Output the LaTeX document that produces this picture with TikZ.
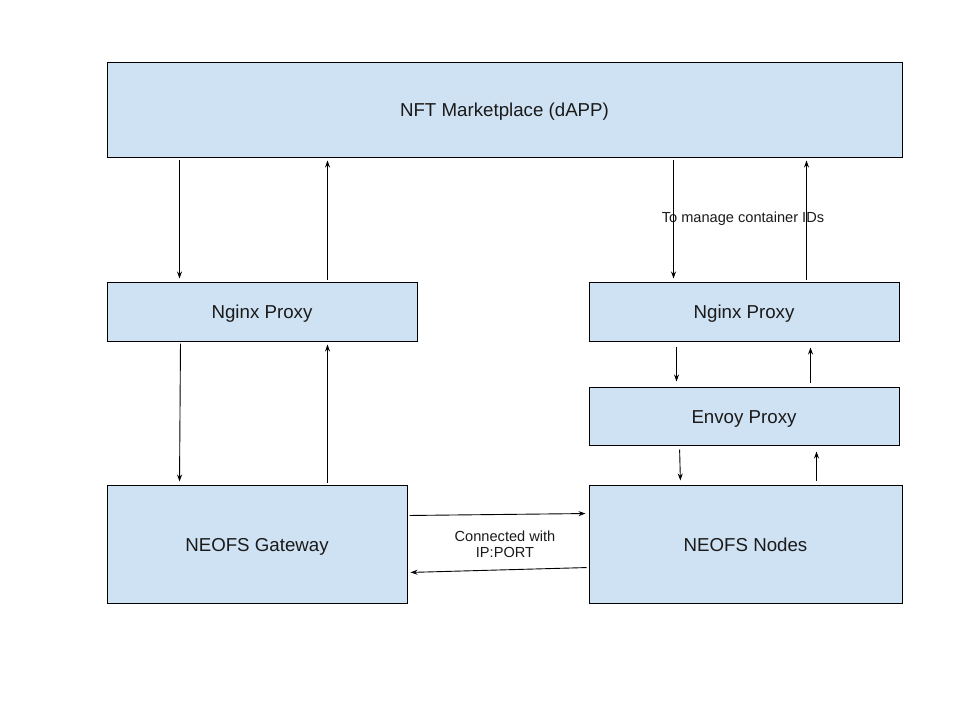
\documentclass[tikz,border=0pt]{standalone}
\usepackage{fontspec}
\setmainfont{Liberation Sans}
\usetikzlibrary{arrows.meta}
\definecolor{boxblue}{HTML}{CFE2F3}
\definecolor{boxtext}{HTML}{1A1A1A}
\begin{document}
\begin{tikzpicture}[x=1pt,y=-1pt]
        \tikzstyle{block}=[rectangle,draw=black,line width=1pt,fill=boxblue,text=boxtext,inner sep=0pt,text height=16pt,text depth=2pt,font=\fontsize{18.7}{22}\selectfont]
        \tikzstyle{edge}=[draw, line width=0.9pt, -{Stealth[length=7pt,width=5pt]}, shorten <=2pt, shorten >=3pt]
        \tikzstyle{note}=[text=boxtext,align=center,font=\fontsize{14.6}{16}\selectfont]
        \useasboundingbox (0,0) rectangle (960,720);
        \begin{scope}
                \node [block,minimum width=795pt,minimum height=95pt] (market) at (504.5,109.5) {NFT Marketplace (dAPP)};
                \node [block,minimum width=310pt,minimum height=59pt] (nginxl) at (262,311.5) {Nginx Proxy};
                \node [block,minimum width=310pt,minimum height=59pt] (nginxr) at (744,311.5) {Nginx Proxy};
                \node [block,minimum width=310pt,minimum height=58pt] (envoy) at (744,416) {Envoy Proxy};
                \node [block,minimum width=300pt,minimum height=118pt] (gateway) at (257,544) {NEOFS Gateway};
                \node [block,minimum width=313pt,minimum height=118pt] (nodes) at (745.5,544) {NEOFS Nodes};
                \node [note] (ids) at (743,219) {To manage container IDs};
                \node [note] (conn) at (505,544) {Connected with\\IP:PORT};
                % left column
                \path[edge] ([xshift=73pt]market.south west) -- ([xshift=73pt]nginxl.north west);
                \path[edge] ([xshift=221pt]nginxl.north west) -- ([xshift=221pt]market.south west);
                \path[edge] ([xshift=74pt]nginxl.south west) -- ([xshift=73pt]gateway.north west);
                \path[edge] ([xshift=221pt]gateway.north west) -- ([xshift=221pt]nginxl.south west);
                % right column
                \path[edge] ([xshift=567pt]market.south west) -- ([xshift=85pt]nginxr.north west);
                \path[edge] ([xshift=218pt]nginxr.north west) -- ([xshift=700pt]market.south west);
                \path[edge, shorten <=5pt, shorten >=5pt] ([xshift=88pt]nginxr.south west) -- ([xshift=88pt]envoy.north west);
                \path[edge, shorten <=4pt, shorten >=6pt] ([xshift=222pt]envoy.north west) -- ([xshift=222pt]nginxr.south west);
                \path[edge, shorten <=4pt, shorten >=4pt] ([xshift=91pt]envoy.south west) -- ([xshift=92pt]nodes.north west);
                \path[edge, shorten <=4pt, shorten >=6pt] ([xshift=228pt]nodes.north west) -- ([xshift=228pt]envoy.south west);
                % gateway and nodes
                \path[edge] ([yshift=-31pt]gateway.north east) -- ([yshift=-29pt]nodes.north west);
                \path[edge] ([yshift=-83pt]nodes.north west) -- ([yshift=-88pt]gateway.north east);
        \end{scope}
\end{tikzpicture}
\end{document}
